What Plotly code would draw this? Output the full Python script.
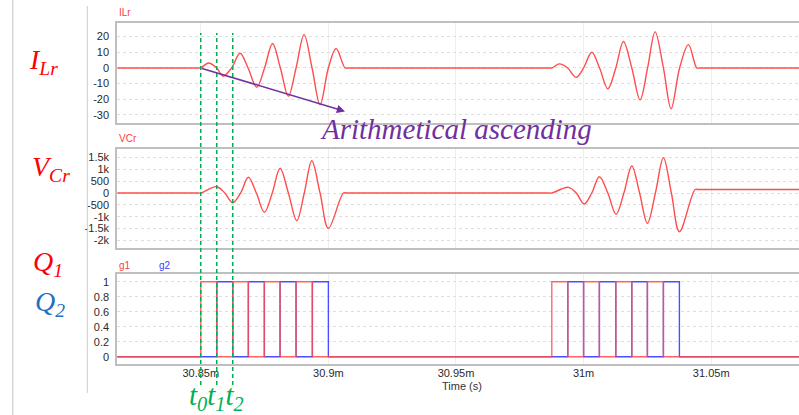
import plotly.graph_objects as go

W, H = 799, 415

# ---------------- data (time in ms; axis shows SI "m" = milli-seconds) ----------------
ilr_t = [30.8172, 30.849, 30.85, 30.85306, 30.85627, 30.85874, 30.86207, 30.8654, 30.86853,
         30.87194, 30.875, 30.87813, 30.88119, 30.88433, 30.88734, 30.89048, 30.89361, 30.89675,
         30.9, 30.90302, 30.90654, 30.9078,
         30.9863, 30.98754, 30.99052, 30.99373, 30.99706, 31.0, 31.00321, 31.00627, 31.00948,
         31.01262, 31.0156, 31.01889, 31.02214, 31.02508, 31.02802, 31.03127, 31.03429, 31.03762,
         31.04107, 31.04436, 31.0456, 31.0845]
ilr_v = [0, 0, 0, 3.2, 0, -5.2, 0, 9.4, 0,
         -12.3, 0, 15.6, 0, -18.0, 0, 21.3, 0, -23.5,
         0, 12.4, 0, 0,
         0, 0, 2.6, 0, -6.0, 0, 10.0, 0, -13.3,
         0, 16.9, 0, -20.3, 0, 23.0, 0, -26.0, 0,
         14.9, 0, 0, 0]

vcr_t = [30.8172, 30.849, 30.85, 30.85627, 30.8594, 30.86254, 30.8656, 30.86865, 30.87179,
         30.87492, 30.87802, 30.88107, 30.88433, 30.88762, 30.89056, 30.8935, 30.89675, 30.9,
         30.90588, 30.9072,
         30.9863, 30.98754, 30.99404, 30.99714, 31.0002, 31.00321, 31.00619, 31.00948, 31.01273,
         31.01579, 31.01889, 31.02194, 31.025, 31.02813, 31.03127, 31.0344, 31.03754, 31.04369,
         31.045, 31.0845]
vcr_v = [0, 0, 0, 266, 0, -409, 0, 662, 0,
         -814, 0, 1042, 0, -1168, 0, 1362, 0, -1489,
         0, 0,
         0, 0, 240, 0, -464, 0, 687, 0, -898,
         0, 1139, 0, -1278, 0, 1489, 0, -1632, 150,
         150, 150]

gate_t = [30.8172, 30.85, 30.85627, 30.86254, 30.86865, 30.87492, 30.88107, 30.88734, 30.89373,
          30.9, 30.98754, 30.99381, 31.0, 31.00619, 31.01262, 31.01889, 31.025, 31.03127,
          31.03754, 31.0845]
g1_v = [0, 1, 0, 1, 0, 1, 0, 1, 0, 0, 1, 0, 1, 0, 1, 0, 1, 0, 0, 0]
g2_v = [0, 0, 1, 0, 1, 0, 1, 0, 1, 0, 0, 1, 0, 1, 0, 1, 0, 1, 0, 0]

x_tickvals = [30.85, 30.9, 30.95, 31.0, 31.05]
x_ticktext = ["30.85m", "30.9m", "30.95m", "31m", "31.05m"]
ilr_tickvals = [20, 10, 0, -10, -20, -30]
ilr_ticktext = ["20", "10", "0", "-10", "-20", "-30"]
vcr_tickvals = [1500, 1000, 500, 0, -500, -1000, -1500, -2000]
vcr_ticktext = ["1.5k", "1k", "500", "0", "-500", "-1k", "-1.5k", "-2k"]
gate_tickvals = [1, 0.8, 0.6, 0.4, 0.2, 0]
gate_ticktext = ["1", "0.8", "0.6", "0.4", "0.2", "0"]

t_marks = [30.85, 30.85627, 30.86254]
arrow_tail = (30.84992, 0.0)
arrow_tip = (30.90654, -27.7)

# ---------------- helpers ----------------
def pxx(px):
    return px / W


def pxy(py):
    return 1 - py / H


RED = "#ff4d4d"
BLUE = "#4d4dff"
GRAY_LINE = "#bfbfbf"
GRID = "#dedede"

fig = go.Figure()
fig.add_trace(go.Scatter(x=ilr_t, y=ilr_v, mode="lines", line=dict(color=RED, width=1.4, shape="spline"),
                         xaxis="x", yaxis="y", hoverinfo="skip"))
fig.add_trace(go.Scatter(x=vcr_t, y=vcr_v, mode="lines", line=dict(color=RED, width=1.4, shape="spline"),
                         xaxis="x2", yaxis="y2", hoverinfo="skip"))
fig.add_trace(go.Scatter(x=gate_t, y=g2_v, mode="lines", line=dict(color=BLUE, width=1.4, shape="hv"),
                         xaxis="x3", yaxis="y3", hoverinfo="skip"))
fig.add_trace(go.Scatter(x=gate_t, y=g1_v, mode="lines", line=dict(color=RED, width=1.4, shape="hv"),
                         opacity=0.85, xaxis="x3", yaxis="y3", hoverinfo="skip"))

x_dom = [117.3 / W, 1.0]
xr = [30.8173, 31.0844]
tickfont = dict(family="Arial", size=11, color="#2a2a2a")


def xax(show_labels, anchor):
    return dict(domain=x_dom, range=xr, tickvals=x_tickvals, ticktext=x_ticktext,
                showticklabels=show_labels, showgrid=True, gridcolor="#eeeeee", gridwidth=1,
                showline=True, linecolor=GRAY_LINE, linewidth=2, mirror=True, zeroline=False,
                ticks="", tickfont=tickfont, anchor=anchor, fixedrange=True, ticklabelstandoff=-3)


def yax(dom, rng, tv, tt):
    return dict(domain=dom, range=rng, tickvals=tv, ticktext=tt, showgrid=True, gridcolor=GRID,
                griddash="dot", gridwidth=1, showline=True, linecolor=GRAY_LINE, linewidth=2,
                mirror=False, zeroline=False, ticks="", tickfont=tickfont, ticklabelstandoff=4,
                fixedrange=True)


layout = dict(
    width=W, height=H, margin=dict(l=0, r=0, t=0, b=0),
    paper_bgcolor="white", plot_bgcolor="white", showlegend=False,
    xaxis=xax(False, "y"),
    xaxis2=dict(xax(False, "y2"), matches="x"),
    xaxis3=dict(xax(True, "y3"), matches="x"),
    yaxis=yax([pxy(123.3), pxy(23.3)], [-35.3, 28.5], ilr_tickvals, ilr_ticktext),
    yaxis2=yax([pxy(248.3), pxy(149)], [-2332, 1856], vcr_tickvals, vcr_ticktext),
    yaxis3=yax([pxy(364.3), pxy(274)], [-0.101, 1.103], gate_tickvals, gate_ticktext),
)
fig.update_layout(**layout)

shapes = []
# frame lines on the left
shapes.append(dict(type="line", xref="paper", yref="paper", x0=pxx(12.7), x1=pxx(12.7), y0=0, y1=1,
                   line=dict(color="#d6d6d6", width=1.5)))
shapes.append(dict(type="line", xref="paper", yref="paper", x0=pxx(87.3), x1=pxx(87.3), y0=pxy(393),
                   y1=pxy(6), line=dict(color="#cccccc", width=1)))
# green dashed markers
for tm in t_marks:
    shapes.append(dict(type="line", xref="x3", yref="paper", x0=tm, x1=tm, y0=pxy(385), y1=pxy(33),
                       line=dict(color="#00b050", width=1.5, dash="4px,3px"), layer="above"))
fig.update_layout(shapes=shapes)

ann = []


def label(text, x, y, size, color, family="Arial", xanchor="left", yanchor="middle"):
    ann.append(dict(text=text, xref="paper", yref="paper", x=pxx(x), y=pxy(y), showarrow=False,
                    xanchor=xanchor, yanchor=yanchor, font=dict(family=family, size=size, color=color)))


label("ILr", 117, 13, 10, "#ff3b3b")
label("VCr", 117, 138, 10, "#ff3b3b")
label("g1", 117, 265, 10, "#ff3b3b")
label("g2", 157, 265, 10, "#3b3bff")
label("Time (s)", 462, 386, 11, "#333333", xanchor="center")

SERIF = "Liberation Serif, Times New Roman, serif"
label("<i>I<sub>Lr</sub></i>", 27, 62, 28, "#ff0000", SERIF)
label("<i>V<sub>Cr</sub></i>", 30, 168, 28, "#ff0000", SERIF)
label("<i>Q<sub>1</sub></i>", 31, 263, 28, "#ff0000", SERIF)
label("<i>Q<sub>2</sub></i>", 33, 303, 28, "#1f6fc5", SERIF)
label("<i>Arithmetical ascending</i>", 456, 129, 29, "#7030a0", SERIF, xanchor="center")
label("<i>t<sub>0</sub>t<sub>1</sub>t<sub>2</sub></i>", 216.5, 397, 29, "#00b050", SERIF, xanchor="center")

# arrow
ann.append(dict(x=arrow_tip[0], y=arrow_tip[1], ax=arrow_tail[0], ay=arrow_tail[1],
                xref="x", yref="y", axref="x", ayref="y", text="", showarrow=True,
                arrowhead=2, arrowsize=1.1, arrowwidth=1.5, arrowcolor="#7030a0", standoff=0))
fig.update_layout(annotations=ann)

fig.write_html("out.html")
